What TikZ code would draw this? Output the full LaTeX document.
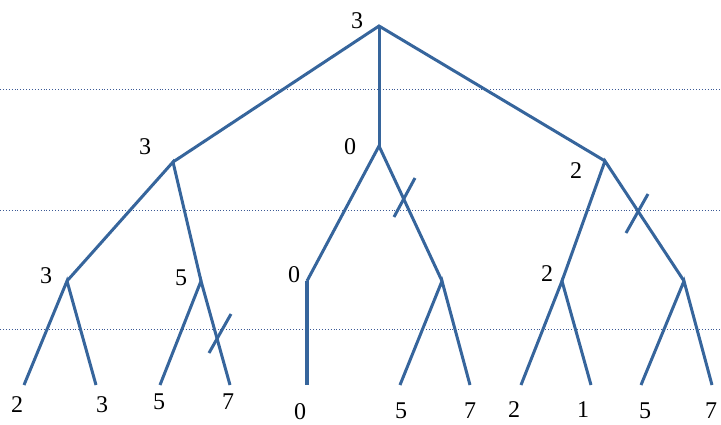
\documentclass[tikz,border=0pt]{standalone}
\usepackage{fontspec}
\setmainfont{Liberation Serif}
\definecolor{edgeblue}{RGB}{54,101,156}
\definecolor{dotblue}{RGB}{60,90,150}
\begin{document}
\begin{tikzpicture}[x=1pt,y=-1pt,
  edge/.style={draw=edgeblue,line width=3pt},
  thickedge/.style={draw=edgeblue,line width=4pt},
  cutmark/.style={draw=edgeblue,line width=3pt},
  guide/.style={draw=dotblue,line width=0.9pt,dotted},
  val/.style={font=\fontsize{24}{26}\selectfont,inner sep=0pt}]
\useasboundingbox (0,0) rectangle (721,424);
% guide lines
\coordinate (g1l) at (0,89);   \coordinate (g1r) at (721,89);
\coordinate (g2l) at (0,210);  \coordinate (g2r) at (721,210);
\coordinate (g3l) at (0,329);  \coordinate (g3r) at (721,329);
\draw[guide] (g1l) -- (g1r);
\draw[guide] (g2l) -- (g2r);
\draw[guide] (g3l) -- (g3r);
% tree nodes
\coordinate (r) at (379,26);
\coordinate (a) at (173,162);
\coordinate (b) at (379,146);
\coordinate (c) at (605,161);
\coordinate (a1) at (67,281);
\coordinate (a2) at (201,281);
\coordinate (b1) at (307,281);
\coordinate (b2) at (442,281);
\coordinate (c1) at (562,281);
\coordinate (c2) at (684,281);
\coordinate (l1) at (24,385);
\coordinate (l2) at (96,385);
\coordinate (l3) at (160,385);
\coordinate (l4) at (230,385);
\coordinate (l5) at (307,385);
\coordinate (l6) at (400,385);
\coordinate (l7) at (470,385);
\coordinate (l8) at (521,385);
\coordinate (l9) at (591,385);
\coordinate (l10) at (641,385);
\coordinate (l11) at (712,385);
% edges
\draw[edge] (a) -- (r) -- (c);
\draw[edge] (r) -- (b);
\draw[edge] (a1) -- (a) -- (a2);
\draw[edge] (b1) -- (b) -- (b2);
\draw[edge] (c1) -- (c) -- (c2);
\draw[edge] (l1) -- (a1) -- (l2);
\draw[edge] (l3) -- (a2) -- (l4);
\draw[thickedge] (b1) -- (l5);
\draw[edge] (l6) -- (b2) -- (l7);
\draw[edge] (l8) -- (c1) -- (l9);
\draw[edge] (l10) -- (c2) -- (l11);
% cut marks
\coordinate (cb1) at (394,217); \coordinate (cb2) at (415,178);
\coordinate (cc1) at (626,233); \coordinate (cc2) at (648,194);
\coordinate (ca1) at (209,353); \coordinate (ca2) at (231,314);
\draw[cutmark] (cb1) -- (cb2);
\draw[cutmark] (cc1) -- (cc2);
\draw[cutmark] (ca1) -- (ca2);
% values
\node[val] (vr) at (357,21) {3};
\node[val] (va) at (145,147) {3};
\node[val] (vb) at (350,147) {0};
\node[val] (vc) at (576,171) {2};
\node[val] (va1) at (46,276) {3};
\node[val] (va2) at (181,278) {5};
\node[val] (vb1) at (294,275) {0};
\node[val] (vc1) at (547,274) {2};
\node[val] (vl1) at (17,405) {2};
\node[val] (vl2) at (102,405) {3};
\node[val] (vl3) at (159,402) {5};
\node[val] (vl4) at (228,402) {7};
\node[val] (vl5) at (300,412) {0};
\node[val] (vl6) at (401,411) {5};
\node[val] (vl7) at (470,411) {7};
\node[val] (vl8) at (514,410) {2};
\node[val] (vl9) at (583,410) {1};
\node[val] (vl10) at (645,411) {5};
\node[val] (vl11) at (711,411) {7};
\end{tikzpicture}
\end{document}
